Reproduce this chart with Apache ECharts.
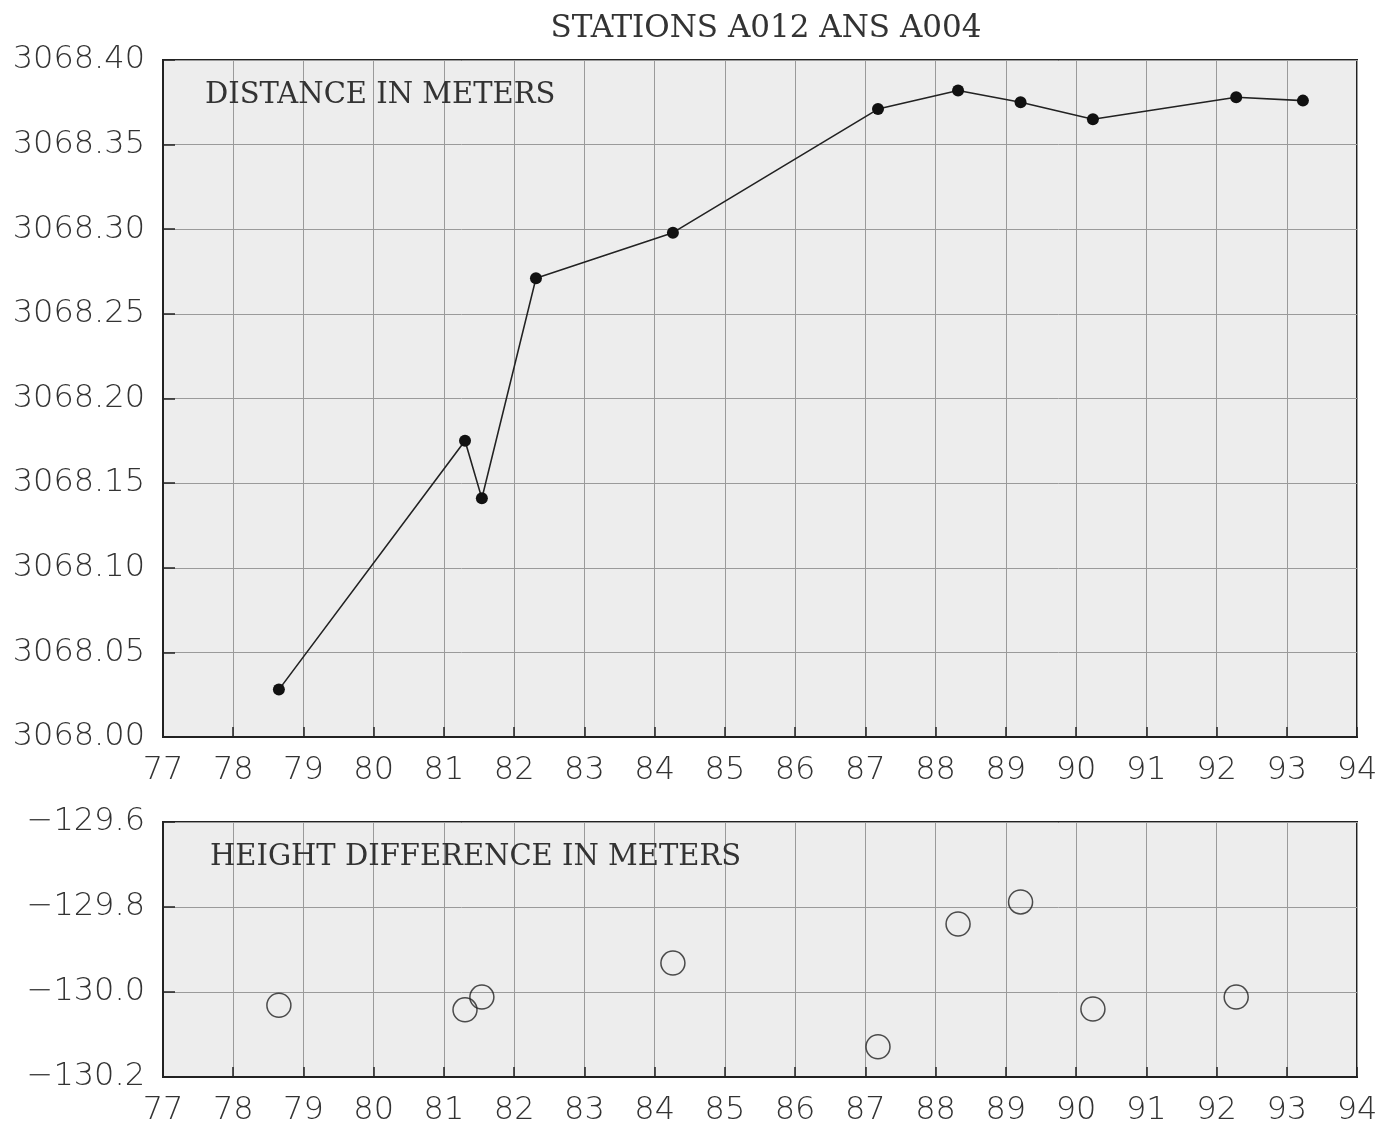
<!DOCTYPE html>
<html><head><meta charset="utf-8">
<script src="https://cdn.jsdelivr.net/npm/echarts@6/dist/echarts.min.js"></script>
<style>html,body{margin:0;padding:0;background:#fff}#c{width:1384px;height:1128px}</style>
</head><body><div id="c"></div>
<script>
const years = [78.65, 81.30, 81.54, 82.31, 84.26, 87.18, 88.32, 89.21, 90.24, 92.28, 93.23];
const distance = [3068.028, 3068.175, 3068.141, 3068.271, 3068.298, 3068.371, 3068.382, 3068.375, 3068.365, 3068.378, 3068.376];
const heightYears = [78.65, 81.30, 81.54, 84.26, 87.18, 88.32, 89.21, 90.24, 92.28];
const heightDiff = [-130.031, -130.042, -130.012, -129.932, -130.129, -129.840, -129.788, -130.040, -130.012];
const chartTitle = 'STATIONS A012 ANS A004';
const topLabel = 'DISTANCE IN METERS';
const bottomLabel = 'HEIGHT DIFFERENCE IN METERS';

const labelFont = {fontFamily: 'DejaVu Sans', fontWeight: 200, fontSize: 32, color: '#333'};
const serif = {fontFamily: 'DejaVu Serif', fontSize: 29, color: '#333', fontWeight: 'normal'};

function xAxis(gi) {
  return {
    type: 'value', gridIndex: gi, min: 77, max: 94, interval: 1,
    axisLine: {show: true, onZero: false, lineStyle: {color: '#222', width: 2}},
    axisTick: {show: true, inside: true, length: 10, lineStyle: {color: '#222', width: 1.5}},
    axisLabel: Object.assign({margin: 18}, labelFont),
    splitLine: {show: true, lineStyle: {color: '#9a9a9a', width: 1}}
  };
}
const chart = echarts.init(document.getElementById('c'));
chart.setOption({
  backgroundColor: '#fff',
  animation: false,
  title: [
    {text: chartTitle, left: 761, top: 8, textAlign: 'center', textStyle: Object.assign({}, serif, {fontSize: 31})},
    {text: topLabel, left: 200, top: 76, textStyle: serif},
    {text: bottomLabel, left: 205, top: 838, textStyle: serif}
  ],
  grid: [
    {left: 163, top: 60, width: 1194, height: 677, show: true, backgroundColor: '#ededed', borderColor: '#222', borderWidth: 2},
    {left: 163, top: 822, width: 1194, height: 255, show: true, backgroundColor: '#ededed', borderColor: '#222', borderWidth: 2}
  ],
  xAxis: [xAxis(0), xAxis(1)],
  yAxis: [
    {type: 'value', gridIndex: 0, min: 3068.00, max: 3068.40, interval: 0.05,
     axisLine: {show: true, lineStyle: {color: '#222', width: 2}},
     axisTick: {show: true, inside: true, length: 12, lineStyle: {color: '#222', width: 1.5}},
     axisLabel: Object.assign({margin: 18, formatter: v => v.toFixed(2)}, labelFont),
     splitLine: {show: true, lineStyle: {color: '#9a9a9a', width: 1}}},
    {type: 'value', gridIndex: 1, min: -130.2, max: -129.6, interval: 0.2,
     axisLine: {show: true, lineStyle: {color: '#222', width: 2}},
     axisTick: {show: true, inside: true, length: 12, lineStyle: {color: '#222', width: 1.5}},
     axisLabel: Object.assign({margin: 18, formatter: v => v.toFixed(1).replace('-', '\u2212')}, labelFont),
     splitLine: {show: true, lineStyle: {color: '#9a9a9a', width: 1}}}
  ],
  series: [
    {type: 'line', xAxisIndex: 0, yAxisIndex: 0, data: years.map((y, i) => [y, distance[i]]),
     symbol: 'circle', symbolSize: 12, itemStyle: {color: '#111'},
     lineStyle: {color: '#222', width: 1.6}},
    {type: 'scatter', xAxisIndex: 1, yAxisIndex: 1, data: heightYears.map((y, i) => [y, heightDiff[i]]),
     symbol: 'circle', symbolSize: 24, itemStyle: {color: 'rgba(0,0,0,0)', borderColor: '#222', borderWidth: 1.5}}
  ]
});
</script></body></html>
